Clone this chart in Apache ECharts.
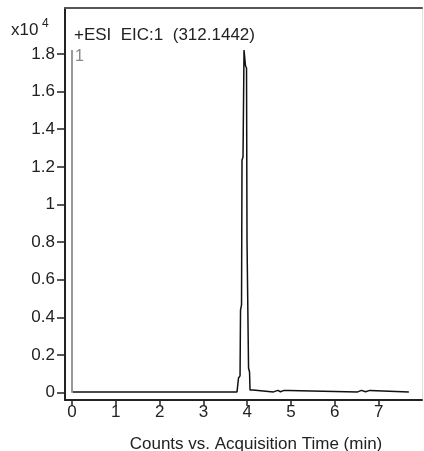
<!DOCTYPE html>
<html>
<head>
<meta charset="utf-8">
<script src="https://cdn.jsdelivr.net/npm/echarts@6/dist/echarts.min.js"></script>
<style>
html,body{margin:0;padding:0;background:#fff;}
#c{width:424px;height:451px;}
</style>
</head>
<body>
<div id="c"></div>
<script>
// Data (counts in units of x10^4, time in minutes)
var times = [0.02, 1.0, 2.0, 3.0, 3.767, 3.801, 3.836, 3.847, 3.870, 3.881, 3.904, 3.927, 3.950, 3.961, 3.984, 3.995, 4.018, 4.030, 4.053, 4.064, 4.132, 4.144,
  4.60, 4.63, 4.70, 4.72, 4.76, 4.78, 4.84, 4.86, 4.90, 4.95, 4.98,
  6.52, 6.55, 6.61, 6.63, 6.70, 6.73, 6.80, 6.83, 7.69];
var counts = [0.004, 0.004, 0.004, 0.004, 0.004, 0.078, 0.089, 0.439, 0.466, 1.236, 1.252, 1.821, 1.821, 1.736, 1.725, 0.811, 0.801, 0.131, 0.110, 0.014, 0.014, 0.004,
  0.004, 0.012, 0.012, 0.005, 0.005, 0.012, 0.012, 0.005, 0.011, 0.011, 0.004,
  0.004, 0.012, 0.012, 0.005, 0.005, 0.012, 0.012, 0.004, 0.004];
var markerTime = [0, 0];
var markerCounts = [0, 1.821];
var xTicks = [0, 1, 2, 3, 4, 5, 6, 7];
var yTicks = [0, 0.2, 0.4, 0.6, 0.8, 1, 1.2, 1.4, 1.6, 1.8];
var titleText = '+ESI  EIC:1  (312.1442)';
var xTitle = 'Counts vs. Acquisition Time (min)';

var trace = times.map(function (t, i) { return [t, counts[i]]; });
var marker = markerTime.map(function (t, i) {
  var item = { value: [t, markerCounts[i]] };
  if (i === markerTime.length - 1) {
    item.label = { show: true, formatter: '1', position: 'right', color: '#888', fontSize: 16,
      fontFamily: 'Liberation Sans', offset: [-2, 7] };
  }
  return item;
});

var font = 'Liberation Sans';
var chart = echarts.init(document.getElementById('c'), null, { renderer: 'canvas' });
chart.setOption({
  animation: false,
  backgroundColor: '#fff',
  title: {
    text: titleText, left: 69, top: 22,
    textStyle: { fontFamily: font, fontSize: 17, fontWeight: 'normal', color: '#222' }
  },
  graphic: [
    { type: 'text', left: 11, top: 22, style: { text: 'x10', font: '17px "Liberation Sans"', fill: '#222' } },
    { type: 'text', left: 42, top: 18, style: { text: '4', font: '12px "Liberation Sans"', fill: '#222' } }
  ],
  grid: { left: 65, right: 2, top: 8, bottom: 51, containLabel: false, outerBoundsMode: 'none' },
  xAxis: [{
    type: 'value', min: -0.16, max: 7.99,
    axisLine: { show: true, onZero: false, lineStyle: { color: '#222', width: 2 } },
    axisTick: { show: true, customValues: xTicks, length: 6, lineStyle: { color: '#222', width: 1.5 } },
    axisLabel: { customValues: xTicks, fontFamily: font, fontSize: 17, color: '#222', margin: 4 },
    splitLine: { show: false },
    name: xTitle, nameLocation: 'middle', nameGap: 36,
    nameTextStyle: { fontFamily: font, fontSize: 17, color: '#222', padding: [0, 0, 0, 25] }
  }, {
    type: 'value', position: 'top', min: -0.16, max: 7.99,
    axisLine: { show: true, onZero: false, lineStyle: { color: '#555', width: 2 } },
    axisTick: { show: false }, axisLabel: { show: false }, splitLine: { show: false }
  }],
  yAxis: [{
    type: 'value', min: -0.039, max: 2.044,
    axisLine: { show: true, onZero: false, lineStyle: { color: '#222', width: 2 } },
    axisTick: { show: true, customValues: yTicks, length: 8, lineStyle: { color: '#222', width: 1.5 } },
    axisLabel: { customValues: yTicks, fontFamily: font, fontSize: 17, color: '#222', margin: 10 },
    splitLine: { show: false }
  }, {
    type: 'value', position: 'right', min: -0.039, max: 2.044,
    axisLine: { show: true, onZero: false, lineStyle: { color: '#e2e2e2', width: 1 } },
    axisTick: { show: false }, axisLabel: { show: false }, splitLine: { show: false }
  }],
  series: [{
    type: 'line', data: marker, symbol: 'circle', symbolSize: 0, showSymbol: true, silent: true,
    itemStyle: { color: '#999' },
    lineStyle: { color: '#999', width: 2 }
  }, {
    type: 'line', data: trace, symbol: 'none', silent: true,
    lineStyle: { color: '#111', width: 1.5 }
  }]
});
</script>
</body>
</html>
